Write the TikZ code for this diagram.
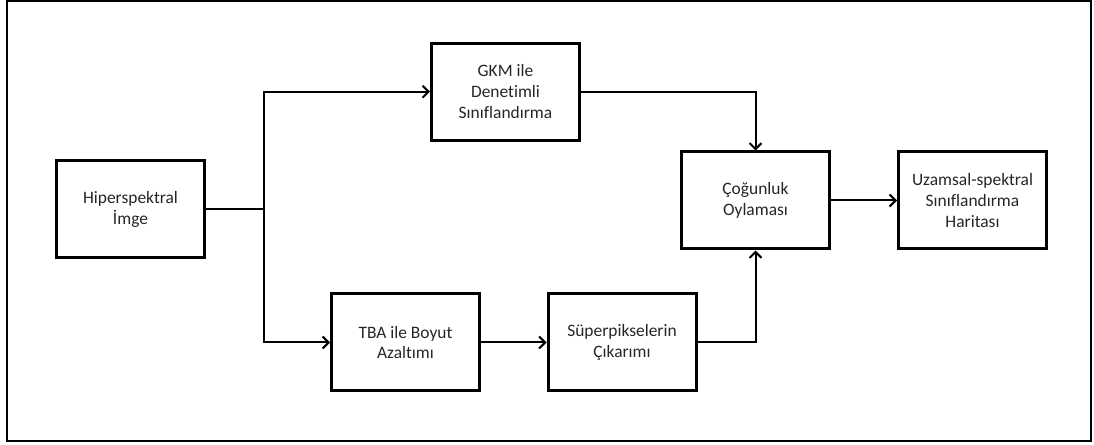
\documentclass[tikz,border=0pt]{standalone}
\usepackage{fontspec}
\setmainfont{Carlito}[Ligatures=NoCommon]
\usetikzlibrary{arrows.meta}
\begin{document}
\begin{tikzpicture}[x=1bp,y=-1bp,
  box/.style={draw, line width=3bp, minimum width=148bp, minimum height=97bp,
    align=center, inner sep=0pt, text=black!85, font=\fontsize{17.5}{21}\selectfont},
  link/.style={line width=2bp},
  flow/.style={link, -{Straight Barb[length=6bp,width=12bp]}}]
  \useasboundingbox (0,0) rectangle (1094,445);
  % frame
  \draw[line width=2bp] (7,1.5) rectangle (1091,441);

  % processing blocks
  \node[box] (hyp)  at (130.5,209)   {Hiperspektral\\İmge};
  \node[box] (gkm)  at (505.5,91.7)  {GKM ile\\Denetimli\\Sınıflandırma};
  \node[box] (tba)  at (405.5,342.5) {TBA ile Boyut\\Azaltımı};
  \node[box] (sup)  at (622,342.5)   {Süperpikselerin\\Çıkarımı};
  \node[box] (vote) at (755.5,200.5) {Çoğunluk\\Oylaması};
  \node[box] (map)  at (972.5,200.5) {Uzamsal-spektral\\Sınıflandırma\\Haritası};

  % branching point after the input
  \coordinate (j) at (264,209);

  % connectors
  \draw[link] (hyp.east) -- (j);
  \draw[flow] (j) |- (gkm.west);
  \draw[flow] (j) |- (tba.west);
  \draw[flow] (tba) -- (sup);
  \draw[flow] (gkm.east) -| (vote.north);
  \draw[flow] (sup.east) -| (vote.south);
  \draw[flow] (vote) -- (map);
\end{tikzpicture}
\end{document}
